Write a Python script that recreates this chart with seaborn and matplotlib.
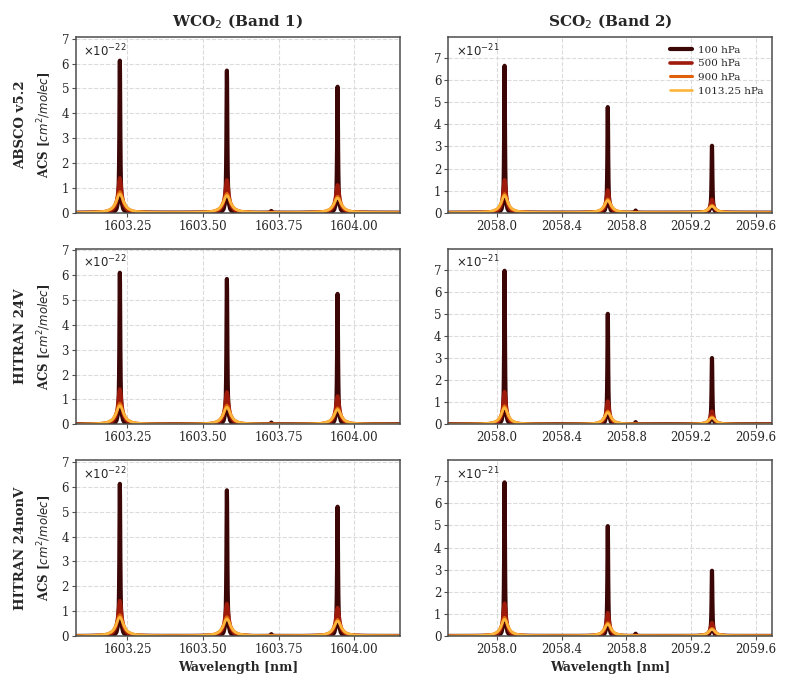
import numpy as np
import pandas as pd
import seaborn as sns
import matplotlib.pyplot as plt
from matplotlib.ticker import MultipleLocator, FormatStrFormatter, FuncFormatter

# pressure levels and line styles
PRESSURES = ['100 hPa', '500 hPa', '900 hPa', '1013.25 hPa']
COLORS = ['#3b0606', '#9e1a0b', '#e0600a', '#fcb53b']
WIDTHS_LW = [3.0, 2.6, 2.2, 1.9]

# line centres [nm] (three strong lines + one weak line)
B1_CENTERS = [1603.225, 1603.579, 1603.945, 1603.726]
B2_CENTERS = [2058.047, 2058.685, 2059.329, 2058.857]

# half widths [nm] per pressure
B1_HWHM = [0.0018, 0.0075, 0.013, 0.0145]
B2_HWHM = [0.0030, 0.0120, 0.022, 0.0250]

# normalised line shape read from the peaks (offset in half widths)
PROFILE_OFFSET = [-60, -35, -20, -12, -8, -6, -4, -3, -2, -1.5, -1, -0.6, -0.3, 0,
                  0.3, 0.6, 1, 1.5, 2, 3, 4, 6, 8, 12, 20, 35, 60]
PROFILE_SHAPE = [0.0003, 0.0008, 0.0025, 0.0069, 0.015, 0.027, 0.059, 0.10, 0.20, 0.31, 0.50, 0.74, 0.92, 1.0,
                 0.92, 0.74, 0.50, 0.31, 0.20, 0.10, 0.059, 0.027, 0.015, 0.0069, 0.0025, 0.0008, 0.0003]

# peak heights, rows = pressure, cols = line (band 1 in 1e-22, band 2 in 1e-21)
ABSCO_B1 = [[6.12, 5.72, 5.07, 0.07], [1.40, 1.32, 1.12, 0.02], [0.85, 0.78, 0.66, 0.0], [0.76, 0.70, 0.60, 0.0]]
ABSCO_B2 = [[6.65, 4.78, 3.03, 0.10], [1.49, 1.03, 0.61, 0.03], [0.86, 0.62, 0.34, 0.0], [0.78, 0.56, 0.30, 0.0]]
HIT24V_B1 = [[6.10, 5.85, 5.25, 0.07], [1.42, 1.30, 1.14, 0.02], [0.85, 0.77, 0.66, 0.0], [0.76, 0.69, 0.60, 0.0]]
HIT24V_B2 = [[6.95, 5.00, 3.00, 0.10], [1.48, 1.05, 0.60, 0.03], [0.84, 0.60, 0.34, 0.0], [0.76, 0.54, 0.30, 0.0]]
HIT24NV_B1 = [[6.12, 5.86, 5.20, 0.07], [1.42, 1.30, 1.14, 0.02], [0.85, 0.77, 0.66, 0.0], [0.76, 0.69, 0.60, 0.0]]
HIT24NV_B2 = [[6.95, 4.97, 2.95, 0.10], [1.48, 1.05, 0.60, 0.03], [0.84, 0.60, 0.34, 0.0], [0.76, 0.54, 0.30, 0.0]]

ROW_NAMES = ['ABSCO v5.2', 'HITRAN 24V', 'HITRAN 24nonV']
COL_TITLES = ['WCO$_2$ (Band 1)', 'SCO$_2$ (Band 2)']
B1_XLIM = (1603.08, 1604.15)
B2_XLIM = (2057.70, 2059.70)
B1_EXP = -22
B2_EXP = -21


def build_curve(centers, heights, hwhm, xlim, scale):
    used = sorted(c for c, h in zip(centers, heights) if h > 0)
    hmap = {c: h for c, h in zip(centers, heights)}
    xs = [xlim[0]]
    ys = [0.0]
    for k, c in enumerate(used):
        lo = (used[k - 1] + c) / 2 if k > 0 else xlim[0]
        hi = (used[k + 1] + c) / 2 if k < len(used) - 1 else xlim[1]
        for off, shp in zip(PROFILE_OFFSET, PROFILE_SHAPE):
            x = c + off * hwhm
            if lo < x < hi:
                xs.append(x)
                ys.append(hmap[c] * shp * scale)
    xs.append(xlim[1])
    ys.append(0.0)
    return pd.DataFrame({'wl': xs, 'acs': ys})


sns.set_style('whitegrid', {'grid.linestyle': '--', 'axes.edgecolor': '0.3', 'grid.color': '0.86'})
plt.rcParams['font.family'] = ['DejaVu Serif']
plt.rcParams['mathtext.fontset'] = 'dejavusans'

fig, axes = plt.subplots(3, 2, figsize=(8, 6.86), dpi=100)
fig.subplots_adjust(left=0.095, right=0.965, top=0.946, bottom=0.073, wspace=0.151, hspace=0.2045)

panels = [[ABSCO_B1, ABSCO_B2], [HIT24V_B1, HIT24V_B2], [HIT24NV_B1, HIT24NV_B2]]

for r in range(3):
    for c in range(2):
        ax = axes[r, c]
        if c == 0:
            centers, hwhm, xlim, expo, ytop = B1_CENTERS, B1_HWHM, B1_XLIM, B1_EXP, 7.07
        else:
            centers, hwhm, xlim, expo, ytop = B2_CENTERS, B2_HWHM, B2_XLIM, B2_EXP, 7.95
        scale = 10.0 ** expo
        heights = panels[r][c]
        for p in range(4):
            df = build_curve(centers, heights[p], hwhm[p], xlim, scale)
            sns.lineplot(data=df, x='wl', y='acs', ax=ax, color=COLORS[p], lw=WIDTHS_LW[p],
                         sort=False, estimator=None, label=PRESSURES[p])
        ax.set_xlim(*xlim)
        ax.set_ylim(0, ytop * scale)
        ax.yaxis.set_major_locator(MultipleLocator(scale))
        ax.yaxis.set_major_formatter(FuncFormatter(lambda v, pos, s=scale: f'{v / s:.0f}'))
        ax.text(0.022, 0.97, rf'$\times10^{{{expo}}}$', transform=ax.transAxes,
                ha='left', va='top', fontsize=8.5)
        if c == 0:
            ax.xaxis.set_major_locator(MultipleLocator(0.25))
            ax.xaxis.set_major_formatter(FormatStrFormatter('%.2f'))
        else:
            ax.xaxis.set_major_locator(MultipleLocator(0.4))
            ax.xaxis.set_major_formatter(FormatStrFormatter('%.1f'))
        ax.tick_params(axis='both', labelsize=8.5, left=True, bottom=True, length=3, width=0.8, color='0.3', pad=2)
        for s in ax.spines.values():
            s.set_linewidth(1.1)
        ax.set_xlabel('Wavelength [nm]' if r == 2 else '', fontsize=9, fontweight='bold')
        if c == 0:
            ax.set_ylabel('ACS [$cm^2/molec$]', fontsize=8.5, fontweight='bold')
            ax.yaxis.set_label_coords(-0.068, 0.5)
        else:
            ax.set_ylabel('')
        if r == 0:
            ax.set_title(COL_TITLES[c], fontsize=11, fontweight='bold', pad=8)
        if r == 0 and c == 1:
            ax.legend(loc='upper right', frameon=False, fontsize=7.5, handlelength=2.1,
                      borderaxespad=0.4, labelspacing=0.42, handletextpad=0.6)
        else:
            ax.get_legend().remove()

for r in range(3):
    pos = axes[r, 0].get_position()
    fig.text(0.026, (pos.y0 + pos.y1) / 2, ROW_NAMES[r], rotation=90, ha='center', va='center',
             fontsize=9.5, fontweight='bold')

fig.savefig('out.png', dpi=100)
